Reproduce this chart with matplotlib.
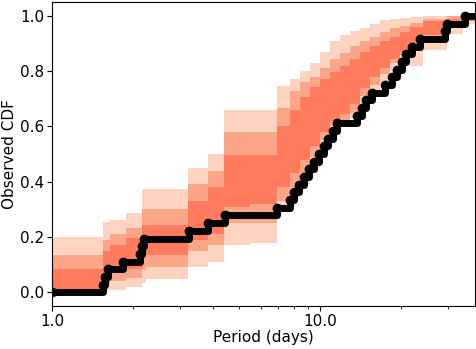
import matplotlib
matplotlib.use('Agg')
import matplotlib.pyplot as plt
from matplotlib.ticker import FormatStrFormatter, NullFormatter
import numpy as np

# observed planet periods (days), sorted
periods = [1.55, 1.577, 1.618, 1.84, 2.13, 2.167, 2.204, 3.245, 3.82, 4.422,
           6.911, 7.728, 7.998, 8.349, 8.716, 9.099, 9.497, 9.914, 10.35, 10.71,
           11.18, 11.57, 13.75, 14.35, 14.85, 15.63, 17.48, 18.56, 19.38, 20.23,
           20.94, 22.04, 23.61, 29.27, 29.78, 34.76]

# model CDF envelopes on a period grid (step edges)
edges = [1.0, 1.55, 1.645, 1.89, 2.17, 2.24, 3.22, 3.82, 4.38, 5.48, 6.91,
         7.73, 8.42, 9.18, 10.0, 10.9, 11.88, 12.94, 14.1, 15.37, 16.75,
         18.25, 19.89, 21.67, 24.23, 29.78, 34.17, 37.9]

light_lo = [0.0, 0.008, 0.008, 0.02, 0.035, 0.048, 0.09, 0.11, 0.17, 0.178,
            0.30, 0.34, 0.39, 0.45, 0.51, 0.57, 0.61, 0.63, 0.68, 0.72,
            0.76, 0.80, 0.84, 0.82, 0.875, 0.935, 0.97]
light_hi = [0.2, 0.255, 0.26, 0.286, 0.373, 0.373, 0.448, 0.50, 0.658, 0.658,
            0.745, 0.77, 0.80, 0.83, 0.87, 0.91, 0.93, 0.945, 0.955, 0.97,
            0.985, 0.99, 0.994, 0.997, 1.0, 1.0, 1.0]
med_lo = [0.0, 0.03, 0.04, 0.05, 0.08, 0.09, 0.15, 0.17, 0.25, 0.25,
          0.33, 0.38, 0.43, 0.49, 0.55, 0.60, 0.625, 0.65, 0.71, 0.75,
          0.79, 0.83, 0.86, 0.88, 0.91, 0.955, 0.98]
med_hi = [0.135, 0.19, 0.21, 0.232, 0.30, 0.30, 0.39, 0.44, 0.58, 0.58,
          0.665, 0.73, 0.76, 0.78, 0.81, 0.845, 0.865, 0.89, 0.91, 0.925,
          0.94, 0.955, 0.965, 0.975, 0.99, 1.0, 1.0]
dark_lo = [0.0, 0.05, 0.075, 0.085, 0.125, 0.135, 0.19, 0.21, 0.31, 0.32,
           0.38, 0.43, 0.48, 0.53, 0.58, 0.62, 0.645, 0.68, 0.74, 0.78,
           0.81, 0.845, 0.87, 0.90, 0.93, 0.97, 0.99]
dark_hi = [0.085, 0.15, 0.17, 0.196, 0.245, 0.245, 0.33, 0.38, 0.495, 0.495,
           0.60, 0.658, 0.705, 0.742, 0.77, 0.796, 0.82, 0.845, 0.87, 0.89,
           0.91, 0.925, 0.94, 0.96, 0.98, 0.99, 1.0]

bands = [(light_lo, light_hi, '#fed4c0'),
         (med_lo, med_hi, '#fca689'),
         (dark_lo, dark_hi, '#fe7b5e')]

fig, ax = plt.subplots(figsize=(4.77, 3.49), dpi=100)
fig.subplots_adjust(left=0.109, right=0.996, bottom=0.123, top=0.994)

for lo, hi, col in bands:
    ax.fill_between(edges, lo + [lo[-1]], hi + [hi[-1]], step='post',
                    color=col, lw=0)

# empirical CDF of the observed sample
n = len(periods)
cdf = np.arange(1, n + 1) / n
xs = [edges[0]] + periods + [edges[-1]]
ys = [0.0] + list(cdf) + [1.0]
ax.step(xs, ys, where='post', color='k', lw=5, solid_joinstyle='round')
ax.plot([edges[0]] + periods, [0.0] + list(cdf), 'ko', ms=6)

ax.set_xscale('log')
ax.set_xlim(1.0, 37.9)
ax.set_ylim(-0.05, 1.05)
ax.xaxis.set_major_formatter(FormatStrFormatter('%.1f'))
ax.xaxis.set_minor_formatter(NullFormatter())
ax.set_xlabel('Period (days)', fontsize=11, labelpad=1)
ax.set_ylabel('Observed CDF', fontsize=11, labelpad=2)
ax.tick_params(labelsize=11, pad=2)

fig.savefig('out.png', dpi=100)
